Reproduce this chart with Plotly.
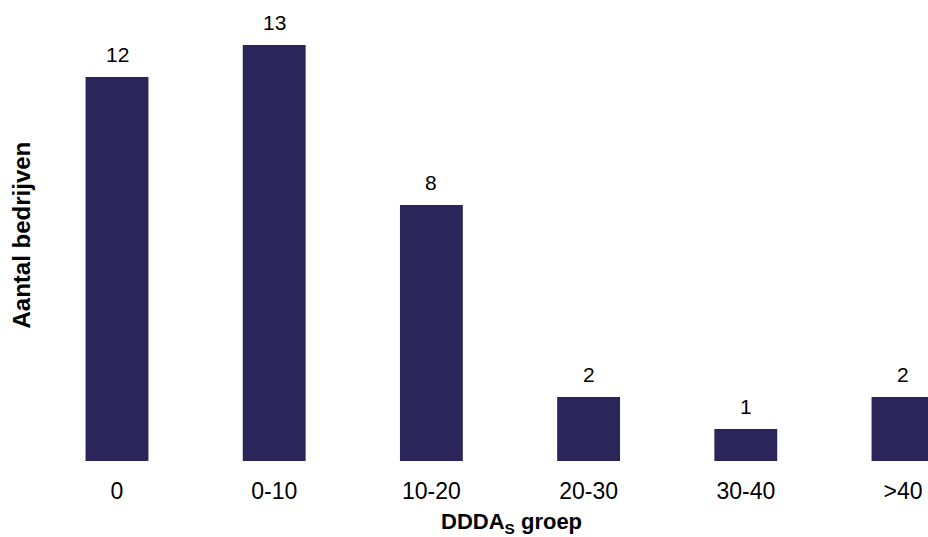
import plotly.graph_objects as go

categories = ["0", "0-10", "10-20", "20-30", "30-40", ">40"]
values = [12, 13, 8, 2, 1, 2]

bar_color = "#2A2659"
font_family = "Liberation Sans, Arial"

fig = go.Figure()
fig.add_trace(go.Bar(
    x=categories,
    y=values,
    marker=dict(color=bar_color, line=dict(width=0)),
    width=0.4,
    hoverinfo="skip",
))

for c, v in zip(categories, values):
    fig.add_annotation(
        x=c, y=v, text=str(v), showarrow=False,
        yanchor="bottom", yshift=9,
        font=dict(family=font_family, size=21, color="black"),
    )

# axis titles
fig.add_annotation(
    xref="paper", yref="paper", x=0.5207, y=-0.137,
    xanchor="center", yanchor="middle", showarrow=False,
    text="<b>DDDA<sub>S</sub> groep</b>",
    font=dict(family=font_family, size=22, color="black"),
)
fig.add_annotation(
    xref="paper", yref="paper", x=-0.0438, y=0.5,
    xanchor="center", yanchor="middle", showarrow=False, textangle=-90,
    text="<b>Aantal bedrijven</b>",
    font=dict(family=font_family, size=24, color="black"),
)

fig.update_layout(
    width=928, height=537,
    margin=dict(l=60, r=0, t=8, b=76),
    plot_bgcolor="white", paper_bgcolor="white",
    showlegend=False,
    font=dict(family=font_family, size=23, color="black"),
    xaxis=dict(
        range=[-0.3626, 5.159],
        showgrid=False, showline=False, zeroline=False,
        ticks="", ticklabelstandoff=14,
        tickfont=dict(size=23),
        automargin=False,
    ),
    yaxis=dict(
        range=[0, 14.156],
        showgrid=False, showline=False, zeroline=False,
        showticklabels=False, ticks="",
        automargin=False,
    ),
)

fig.write_html(
    "out.html",
    config={"displayModeBar": False},
    post_script="document.body.style.margin='0';document.body.style.overflow='hidden';",
)
